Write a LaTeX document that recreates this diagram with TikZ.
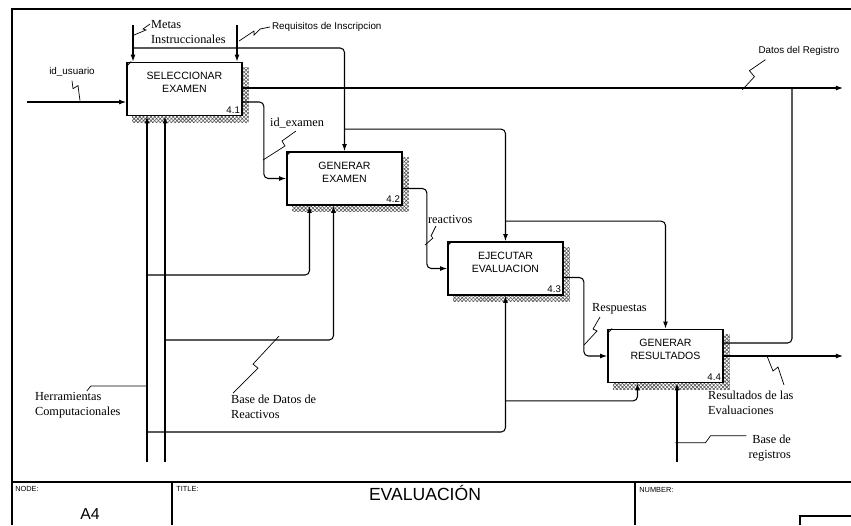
\documentclass[tikz,border=0pt]{standalone}
\usepackage{fontspec}
\setmainfont{Liberation Serif}
\setsansfont{Liberation Sans}
\usetikzlibrary{arrows.meta,positioning,calc,backgrounds,patterns.meta}

\begin{document}
\begin{tikzpicture}[
    x=0.02cm, y=-0.02cm,
    act/.style={draw, line width=1pt, fill=white, minimum width=2.3cm, minimum height=1.06cm, inner sep=0pt, align=center, font=\sffamily\fontsize{6}{7.5}\selectfont},
    num/.style={anchor=south east, inner sep=1.5pt, font=\sffamily\fontsize{5.5}{6}\selectfont},
    flow/.style={draw, line width=0.6pt, rounded corners=2.5pt, -{Latex[length=4pt,width=2.8pt]}},
    pipe/.style={draw, line width=0.6pt, rounded corners=2.5pt},
    zig/.style={draw, line width=0.4pt},
    lbl/.style={inner sep=1pt, font=\fontsize{7}{8.5}\selectfont},
    slbl/.style={inner sep=1pt, font=\sffamily\fontsize{5.6}{7}\selectfont},
    tag/.style={anchor=west, inner sep=0pt, font=\sffamily\fontsize{4.2}{5}\selectfont},
    shade/.style={pattern={Hatch[angle=45,distance=1.5pt,line width=0.35pt]}, pattern color=black!65}
]
\useasboundingbox (0,0) rectangle (851,525);

\node[act, label={[num]south east:4.1}] (sel) at (184.5,89) {SELECCIONAR\\EXAMEN\\\mbox{}};
\node[act, label={[num]south east:4.2}] (gen) at (344.5,178.5) {GENERAR\\EXAMEN\\\mbox{}};
\node[act, label={[num]south east:4.3}] (eje) at (505.5,268.5) {EJECUTAR\\EVALUACION\\\mbox{}};
\node[act, label={[num]south east:4.4}] (res) at (665.5,356) {GENERAR\\RESULTADOS\\\mbox{}};

\foreach \b in {sel,gen,eje,res}
    \draw[line width=0.5pt] ([shift={(0,5)}]\b.north west) -- ([shift={(5,0)}]\b.north west);
\begin{scope}[on background layer]
    \foreach \b in {sel,gen,eje,res}
        \fill[shade] ([shift={(6,6)}]\b.north west) rectangle ([shift={(6,6)}]\b.south east);
\end{scope}

\draw[line width=0.6pt] (851,9) -- (12,9) -- (12,525);
\draw[line width=0.6pt] (12,482) -- (851,482);
\draw[line width=0.6pt] (172,482) -- (172,525);
\draw[line width=0.6pt] (635,482) -- (635,525);
\draw[line width=0.6pt] (800,525) -- (800,516) -- (851,516);

\node[tag] (nodetag) at (15,489) {NODE:};
\node[tag] (titletag) at (176,489) {TITLE:};
\node[tag] (numtag) at (639,490) {NUMBER:};
\node[font=\sffamily\fontsize{9}{10}\selectfont] (nodeid) at (90,514) {A4};
\node[font=\sffamily\fontsize{10}{12}\selectfont] (title) at (425,493) {EVALUACIÓN};

\coordinate (metas) at (133,25);
\coordinate (requi) at (237,25);
\coordinate (usuario) at (27,102);
\coordinate (datos) at (843,88);
\coordinate (resul) at (843,356);
\coordinate (herr1) at (147,462);
\coordinate (herr2) at (165,462);
\coordinate (regis) at (677,462);

\draw[flow] (metas) -- (metas |- sel.north);
\draw[flow] (requi) -- (requi |- sel.north);
\draw[flow] ([shift={(0,23)}]metas) -| (gen.north);
\draw[flow] ([shift={(0,-22)}]gen.north) -| (eje.north);
\draw[flow] ([shift={(0,-20)}]eje.north) -| (res.north);

\draw[flow] (usuario) -- (usuario -| sel.west);
\draw[flow] ([shift={(0,13)}]sel.east) -- ++(21,0) |- (gen.west);
\draw[flow] ([shift={(0,10)}]gen.east) -- ++(24,0) |- (eje.west);
\draw[flow] ([shift={(0,9)}]eje.east) -- ++(20,0) |- (res.west);

\draw[flow] (datos -| sel.east) -- (datos);
\draw[pipe] ([shift={(0,-13)}]res.east) -| ([shift={(-51,0)}]datos);
\draw[flow] (res.east) -- (resul);

\draw[flow] (herr1) -- (herr1 |- sel.south);
\draw[flow] (herr2) -- (herr2 |- sel.south);
\draw[flow] ([shift={(0,-187)}]herr1) -| ([shift={(-35,0)}]gen.south);
\draw[flow] ([shift={(0,-122)}]herr2) -| ([shift={(-11,0)}]gen.south);
\draw[flow] ([shift={(0,-30)}]herr1) -| (eje.south);
\draw[flow] ([shift={(0,105)}]eje.south) -| ([shift={(-28,0)}]res.south);
\draw[flow] (regis) -- (regis |- res.south);

\node[lbl, anchor=west, align=left] (metasl) at (149,32) {Metas\\Instruccionales};
\node[slbl, anchor=west] (requil) at (270,27) {Requisitos de Inscripcion};
\node[slbl] (usuariol) at (72,72) {id\_usuario};
\node[slbl] (datosl) at (799,51) {Datos del Registro};
\node[lbl, anchor=west] (idexl) at (268,123) {id\_examen};
\node[lbl, anchor=west] (reactl) at (426,219) {reactivos};
\node[lbl, anchor=west] (respl) at (590,309) {Respuestas};
\node[lbl, anchor=west, align=left] (resull) at (706,403) {Resultados de las\\Evaluaciones};
\node[lbl, anchor=east, align=right] (regisl) at (793,448) {Base de\\registros};
\node[lbl, anchor=west, align=left] (herrl) at (33,405) {Herramientas\\Computacionales};
\node[lbl, anchor=west, align=left] (basel) at (229,407) {Base de Datos de\\Reactivos};

\draw[zig] ([shift={(1,-8)}]metasl.west) -- ++(-7,5) -- ++(3,1) -- ++(-12,5);
\draw[zig] (requil.west) -- ++(-10,2) -- ++(-6,6) -- ++(0,-4) -- ++(-15,10);
\draw[zig] ([shift={(0,2)}]usuariol.south) -- ++(1,8) -- ++(5,-3) -- ++(2,15);
\draw[zig] ([shift={(9,2)}]datosl.south west) -- ++(-16,11) -- ++(5,6) -- ++(-12,13);
\draw[zig] ([shift={(28,8)}]idexl.west) -- ++(-14,10) -- ++(3,5) -- ++(-22,14);
\draw[zig] ([shift={(10,7)}]reactl.west) -- ++(-5,10) -- ++(2,2) -- ++(-8,7);
\draw[zig] ([shift={(10,8)}]respl.west) -- ++(-7,12) -- ++(4,2) -- ++(-13,14);
\draw[zig] ([shift={(-76,0)}]resul) -- ++(6,15) -- ++(5,-4) -- ++(6,18);
\draw[zig] (regisl.north west) ++(0,3) -- ++(-36,0) -- ++(-5,7) -- ++(-30,0);
\draw[zig] ([shift={(9,1)}]herrl.north) -- ++(4,-5) -- ++(57,0);
\draw[zig] ([shift={(4,0)}]basel.north west) -- ++(25,-25) -- ++(-5,-4) -- ++(26,-28);
\end{tikzpicture}
\end{document}
